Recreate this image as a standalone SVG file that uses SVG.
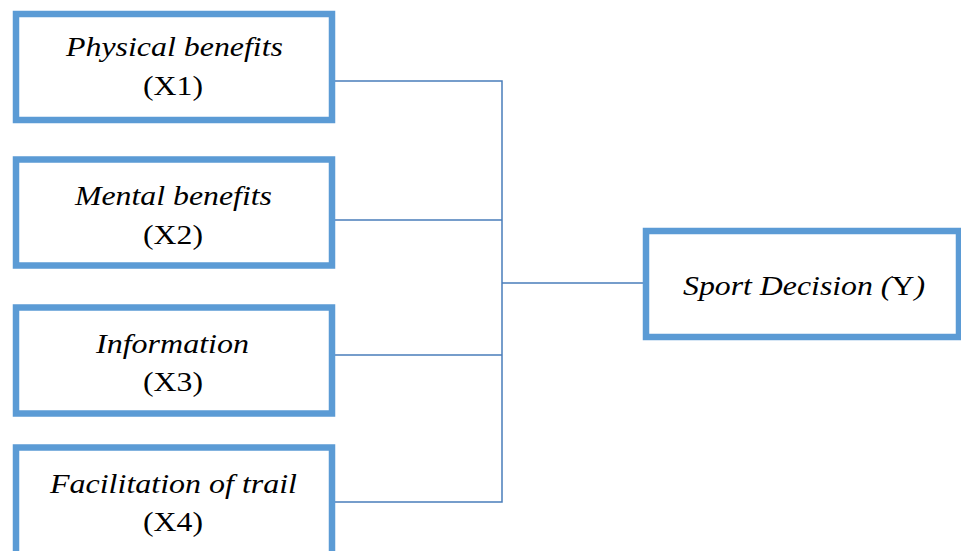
<svg xmlns="http://www.w3.org/2000/svg" width="961" height="551" viewBox="0 0 961 551">
<style>
.box{fill:#fff;stroke:#5B9BD5;stroke-width:6.5}
.t{font-family:"Liberation Serif",serif;font-size:28px;fill:#000;text-anchor:middle}
.i{font-style:italic}
.c{fill:none;stroke:#4A7EBB;stroke-width:1.5}
</style>
<rect width="961" height="551" fill="#fff"/>
<g id="connectors">
<path class="c" d="M333 81H502V502H333M333 220H502M333 355H502M502 283H645"/>
</g>
<g id="x1">
<rect class="box" x="16" y="14" width="316" height="106"/>
<text class="t i" x="174.5" y="56" textLength="217" lengthAdjust="spacingAndGlyphs">Physical benefits</text>
<text class="t" x="173" y="95" textLength="60" lengthAdjust="spacingAndGlyphs">(X1)</text>
</g>
<g id="x2">
<rect class="box" x="16" y="159.5" width="316" height="106"/>
<text class="t i" x="173.5" y="205" textLength="197" lengthAdjust="spacingAndGlyphs">Mental benefits</text>
<text class="t" x="173" y="244" textLength="60" lengthAdjust="spacingAndGlyphs">(X2)</text>
</g>
<g id="x3">
<rect class="box" x="16" y="307.5" width="316" height="106"/>
<text class="t i" x="172.5" y="353" textLength="153" lengthAdjust="spacingAndGlyphs">Information</text>
<text class="t" x="173" y="391" textLength="60" lengthAdjust="spacingAndGlyphs">(X3)</text>
</g>
<g id="x4">
<rect class="box" x="16" y="447.5" width="316" height="110"/>
<text class="t i" x="173.5" y="493" textLength="247" lengthAdjust="spacingAndGlyphs">Facilitation of trail</text>
<text class="t" x="173" y="531" textLength="60" lengthAdjust="spacingAndGlyphs">(X4)</text>
</g>
<g id="y">
<rect class="box" x="646" y="231" width="313" height="106"/>
<text class="t" x="804" y="295" textLength="242" lengthAdjust="spacingAndGlyphs"><tspan class="i">Sport Decision (</tspan>Y<tspan class="i">)</tspan></text>
</g>
</svg>
